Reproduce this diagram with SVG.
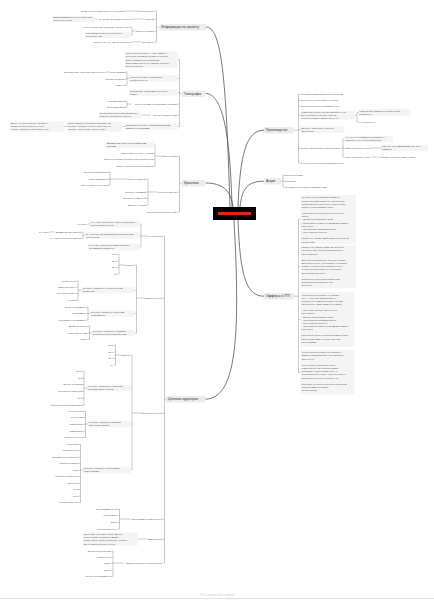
<svg xmlns="http://www.w3.org/2000/svg" width="434" height="600" viewBox="0 0 434 600">
<style>
text{font-family:"Liberation Sans",Arial,sans-serif;font-size:2.1px;fill:#4d4d4d}
.m{font-size:3.3px;fill:#333}
.r{text-anchor:end}
.mb{fill:#ececec}
.lb{fill:#f4f4f4}
.c{fill:none;stroke:#7a7a7a;stroke-width:.4}
.k{fill:none;stroke:#4d4d4d;stroke-width:.75}
.f{font-size:3.6px;fill:#d0d0d0}
</style>
<rect width="434" height="600" fill="#fff"/>
<g id="connectors">
<path class="k" d="M230 207C226 80 222 27 206 27"/>
<path class="k" d="M232 207C230 130 222 93.5 205.5 93.5"/>
<path class="k" d="M233 207C231 190 222 183 205.5 183"/>
<path class="k" d="M234 220C240 330 238 399.2 205 399.2"/>
<path class="k" d="M238 207C240 155 246 130.2 264 130.2"/>
<path class="k" d="M240 207C242 188 248 181.2 264 181.2"/>
<path class="k" d="M238 220C240 275 246 296.2 264 296.2"/>
<path class="c" d="M159.5 27.2H156.5M156.5 11V42M156.5 11H154.5M156.5 19H154.5M156.5 31H154.5M156.5 42H154.5M140 11H125.5M143.5 19H133.5M97.5 19H95M135.5 31H132M132 27V35M132 27H130.5M132 35H130.5M141.3 42H130.8"/>
<path class="c" d="M182 93.7H179.5M179.5 59.7V126.5M179.5 59.7H177.5M179.5 78.5H177.5M179.5 92.5H177.5M179.5 104H177.5M179.5 115H177.5M179.5 126.5H177.5M129 78.5H127M127 72V85M127 72H125.5M127 79H125.5M127 85H125.5M109.5 72H106.5M131.5 104H127M127 101V107M127 101H125.5M127 107H125.5M151 115H141.5M125 126.5H122.5M67 126.5H63.5"/>
<path class="c" d="M182 183.2H179.5M179.5 156V212M179.5 156H177.5M179.5 192H177.5M179.5 212H177.5M162.5 156H155M155 145V166M155 145H153.5M155 153H153.5M155 159.5H153.5M155 166H153.5M157.5 192H148M148 179V205M148 179H146.5M148 192H146.5M148 198.5H146.5M148 205H146.5M129 179H110M110 172V185M110 172H108.5M110 179H108.5M110 185H108.5"/>
<path class="c" d="M166 399.2H164.5M164.5 236V563M164.5 236H162.5M164.5 298H162.5M164.5 413H162.5M164.5 519H162.5M164.5 539H162.5M164.5 563H162.5M147.5 236H141M141 224V247M141 224H139.5M141 235.5H139.5M141 247H139.5M90 224H87.5M85 235.5H83M83 232V238.5M83 232H81.5M83 238.5H81.5M55 232H49M67.5 238.5H60.5"/>
<path class="c" d="M145 298H136.5M136.5 265V333M136.5 265H134.5M136.5 290H134.5M136.5 313.5H134.5M136.5 333H134.5M126 265H119M119 254V274M119 254H117.5M119 261H117.5M119 267.5H117.5M119 274H117.5M82 290H78M78 281V300M78 281H76.5M78 287H76.5M78 293.5H76.5M78 300H76.5M90 313.5H88M88 307V320M88 307H86.5M88 313.5H86.5M88 320H86.5M92 333H89.5M89.5 326V339.5M89.5 326H88M89.5 333H88M89.5 339.5H88"/>
<path class="c" d="M143 413H132M132 355V470M132 355H130.5M132 388H130.5M132 424H130.5M132 470H130.5M122 355H115.5M115.5 345V365M115.5 345H114M115.5 352H114M115.5 358.5H114M115.5 365H114M87 388H84M84 371V405M84 371H82.5M84 378H82.5M84 384.5H82.5M84 391H82.5M84 398H82.5M84 405H82.5M88 424H85.5M85.5 411V437.5M85.5 411H84M85.5 417.5H84M85.5 424H84M85.5 431H84M85.5 437.5H84M83 470H80.5M80.5 444V502.5M80.5 444H79M80.5 450.5H79M80.5 457H79M80.5 463.5H79M80.5 470H79M80.5 476.5H79M80.5 483H79M80.5 489.5H79M80.5 496H79M80.5 502.5H79"/>
<path class="c" d="M130.5 519H119.5M119.5 509V529M119.5 509H118M119.5 515.7H118M119.5 522.3H118M119.5 529H118M147 539H137.5M123.5 563H113M113 551V576.3M113 551H111.5M113 557.3H111.5M113 563.6H111.5M113 570H111.5M113 576.3H111.5"/>
<path class="c" d="M294 130.2H298.5M298.5 94V163M298.5 94H300.5M298.5 100H300.5M298.5 106H300.5M298.5 115H300.5M298.5 129.5H300.5M298.5 148H300.5M298.5 163H300.5M354.5 115.2H357M357 112.5V122M357 112.5H358.5M357 122H358.5M341 148H343M343 139V157M343 139H344.5M343 148H344.5M343 157H344.5M371 148H381M371 157H380.5"/>
<path class="c" d="M281 181.2H283M283 175V187M283 175H284.5M283 181H284.5M283 187H284.5"/>
<path class="c" d="M294 296.2H298.5M298.5 219V372.5M298.5 219H300.5M298.5 266.7H300.5M298.5 319.5H300.5M298.5 372.5H300.5"/>
</g>
<g id="center"><rect x="213" y="207" width="43" height="13" fill="#000"/><rect x="218" y="212" width="33" height="3" fill="#e5260d"/></g>

<g id="info"><rect class="mb" x="159.5" y="24" width="46.5" height="6.5" rx="1"/><text class="m" x="161.2" y="28.4">Информация по проекту</text></g>
<g id="info-location"><text class="r" x="154.2" y="11.75">Расположение</text></g>
<g id="info-location-1"><text class="r" x="125" y="11.75">Дубай с перспективой работать до Abu Dhabi</text></g>
<g id="info-audience"><text class="r" x="154.2" y="19.75">Аудитория</text></g>
<g id="info-audience-1"><text class="r" x="133" y="19.75">По нашему ассортименту подходят</text></g>
<g id="info-audience-2"><rect class="lb" x="52.5" y="15.8" width="42.5" height="6.5"/><text><tspan x="53.3" y="18.45">Дизайнерам можно сделать подрядчика</tspan><tspan x="53.3" y="21.45">личного интерьера</tspan></text></g>
<g id="info-budget"><text class="r" x="154.2" y="31.75">Бюджеты и заказы</text></g>
<g id="info-budget-1"><text class="r" x="130.3" y="27.75">400 в день или 4800 AED бюджет за один проект</text></g>
<g id="info-budget-2"><rect class="lb" x="85" y="31.8" width="45.3" height="6.5"/><text><tspan x="85.8" y="34.45">2-10 заказов бюджетно в пределах от</tspan><tspan x="85.8" y="37.45">других 2000 AED</tspan></text></g>
<g id="info-check"><text class="r" x="154.2" y="42.75">Средний чек</text></g>
<g id="info-check-1"><text class="r" x="130.3" y="42.75">Бюджет 5-10 тыс. AED на подрядчика</text></g>

<g id="typo"><rect class="mb" x="182" y="90.5" width="23.5" height="6.5" rx="1"/><text class="m" x="183.8" y="94.9">Типографы</text></g>
<g id="typo-note"><rect class="lb" x="125" y="51.5" width="52.5" height="16.5"/><text><tspan x="125.8" y="54.2">Нужны видео креативы — обои, варианты</tspan><tspan x="125.8" y="57.35">интерьера, рекламные вставки, по сути как</tspan><tspan x="125.8" y="60.5">макеты дизайна и их согласование.</tspan><tspan x="125.8" y="63.65">Важно изменения на эту тематику (они будут</tspan><tspan x="125.8" y="66.8">больше грустные)</tspan></text></g>
<g id="typo-social"><rect class="lb" x="129" y="75.25" width="48.5" height="6.5"/><text><tspan x="129.8" y="77.9">Крупную рекламу на сообщения в</tspan><tspan x="129.8" y="80.9">социальных сетях</tspan></text></g>
<g id="typo-direct"><text class="r" x="125.3" y="72.75">Direct Instagram</text></g>
<g id="typo-direct-1"><text class="r" x="106" y="72.75">Основная связь, работаем через него всего</text></g>
<g id="typo-fb"><text class="r" x="125.3" y="79.75">Facebook Messenger</text></g>
<g id="typo-wa"><text class="r" x="125.3" y="85.75">WhatsApp</text></g>
<g id="typo-site"><rect class="lb" x="129" y="89.25" width="48.5" height="6.5"/><text><tspan x="129.8" y="91.9">Создаем сайт с работами и на нем есть</tspan><tspan x="129.8" y="94.9">прайсы</tspan></text></g>
<g id="typo-lead"><text class="r" x="177.3" y="104.75">Пустить рекламу на лид формы в Instagram</text></g>
<g id="typo-lead-1"><text class="r" x="125.3" y="101.75">С автоматизацией</text></g>
<g id="typo-lead-2"><text class="r" x="125.3" y="107.75">Без автоматизации</text></g>
<g id="typo-web"><text class="r" x="177.3" y="115.75">Пустить рекламу на сайт</text></g>
<g id="typo-web-1"><rect class="lb" x="99" y="111.75" width="42.5" height="6.5"/><text><tspan x="99.8" y="114.4">В 6 запусках и протестировавший всех</tspan><tspan x="99.8" y="117.4">работают как активные клиенты</tspan></text></g>
<g id="typo-banner"><rect class="lb" x="125" y="123.25" width="52.5" height="6.5"/><text><tspan x="125.8" y="125.9">Персонализ. баннеры с живым оформлением</tspan><tspan x="125.8" y="128.9">фирменных полиграфий</tspan></text></g>
<g id="typo-banner-1"><rect class="lb" x="67" y="121.3" width="55.5" height="10.4"/><text><tspan x="67.8" y="123.9">Можно заказать по 2-5 видео креативов. Так</tspan><tspan x="67.8" y="127.05">они будут попадать в тренды. Будет больше</tspan><tspan x="67.8" y="130.2">доверия, чтобы сделать уровень работ</tspan></text></g>
<g id="typo-banner-2"><rect class="lb" x="10" y="121.3" width="53.5" height="10.4"/><text><tspan x="10.8" y="123.9">Видео, где быстро меняют, как можно</tspan><tspan x="10.8" y="127.05">украсить интерьер или его деталь</tspan><tspan x="10.8" y="130.2">неплохо. Ожидается продолжить стену</tspan></text></g>

<g id="creative"><rect class="mb" x="182" y="180" width="23.5" height="6.5" rx="1"/><text class="m" x="184" y="184.4">Креативы</text></g>
<g id="cr-types"><text class="r" x="177.3" y="156.75">Виды креатива</text></g>
<g id="cr-types-1"><rect class="lb" x="106" y="141.75" width="47.5" height="6.5"/><text><tspan x="106.8" y="144.4">Динамические видео со спецэффектами</tspan><tspan x="106.8" y="147.4">работами</tspan></text></g>
<g id="cr-types-2"><text class="r" x="153.3" y="153.75">Видео работы с нуля — с лицом</text></g>
<g id="cr-types-3"><text class="r" x="153.3" y="160.25">Работа по сценарию основного качества на основе</text></g>
<g id="cr-types-4"><text class="r" x="153.3" y="166.75">Видео в процессе реального времени</text></g>
<g id="cr-static"><text class="r" x="177.3" y="192.75">Статичные баннеры</text></g>
<g id="cr-simple"><text class="r" x="146.3" y="179.75">Простые баннеры</text></g>
<g id="cr-simple-1"><text class="r" x="108.3" y="172.75">Инсталяция оформления</text></g>
<g id="cr-simple-2"><text class="r" x="108.3" y="179.75">Живые оформления</text></g>
<g id="cr-simple-3"><text class="r" x="108.3" y="185.75">Простые фоны в текст и ИИ</text></g>
<g id="cr-dynamic"><text class="r" x="146.3" y="192.75">Баннеры с динамикой</text></g>
<g id="cr-ai"><text class="r" x="146.3" y="199.25">Креативы от нейросетей</text></g>
<g id="cr-collage"><text class="r" x="146.3" y="205.75">Баннеры - коллажи</text></g>
<g id="cr-study"><text class="r" x="177.3" y="212.75">Изучение исследованных работ</text></g>

<g id="ta"><rect class="mb" x="166" y="396" width="39.5" height="6.5" rx="1"/><text class="m" x="168" y="400.4">Целевая аудитория</text></g>
<g id="ta-contr"><text class="r" x="162.3" y="236.75">ЦА подрядчики</text></g>
<g id="ta-contr-1"><rect class="lb" x="90" y="220.75" width="49.5" height="6.5"/><text><tspan x="90.8" y="223.4">ЦА с тем, что исследует нужные вещи работы</tspan><tspan x="90.8" y="226.4">и вдохновение на поток</tspan></text></g>
<g id="ta-contr-1a"><text class="r" x="87" y="224.75">ЦА 5-10%</text></g>
<g id="ta-contr-2"><rect class="lb" x="85" y="232.25" width="54.5" height="6.5"/><text><tspan x="85.8" y="234.9">ЦА с постоянным профессиональным интересом</tspan><tspan x="85.8" y="237.9">к интерьерам</tspan></text></g>
<g id="ta-contr-2a"><text class="r" x="81.3" y="232.75">Взаимодействие клиентов</text></g>
<g id="ta-contr-2a1"><text class="r" x="48.5" y="232.75">ЦА 1-65%</text></g>
<g id="ta-contr-2b"><text class="r" x="81.3" y="239.25">Пользователь</text></g>
<g id="ta-contr-2b1"><text class="r" x="60" y="239.25">ЦА 1-50%</text></g>
<g id="ta-contr-3"><rect class="lb" x="88" y="243.75" width="51.5" height="6.5"/><text><tspan x="88.8" y="246.4">ЦА с тем, что исследует заказы на работу</tspan><tspan x="88.8" y="249.4">над фирмой и поиски и пр.</tspan></text></g>

<g id="ta-direct"><text class="r" x="162.3" y="298.75">Прямые интересы</text></g>
<g id="ta-d-age"><text class="r" x="134.3" y="265.75">Возраст</text></g>
<g id="ta-d-age-1"><text class="r" x="117.3" y="254.75">18-24</text></g>
<g id="ta-d-age-2"><text class="r" x="117.3" y="261.75">25-34</text></g>
<g id="ta-d-age-3"><text class="r" x="117.3" y="268.25">35-44</text></g>
<g id="ta-d-age-4"><text class="r" x="117.3" y="274.75">45+</text></g>
<g id="ta-d-build"><rect class="lb" x="82" y="286.75" width="52.5" height="6.5"/><text><tspan x="82.8" y="289.4">Интересы, связанные со строительством</tspan><tspan x="82.8" y="292.4">и ремонтом</tspan></text></g>
<g id="ta-d-build-1"><text class="r" x="76.3" y="281.75">Строительство</text></g>
<g id="ta-d-build-2"><text class="r" x="76.3" y="287.75">Ремонтные работы</text></g>
<g id="ta-d-build-3"><text class="r" x="76.3" y="294.25">Отделочные работы</text></g>
<g id="ta-d-build-4"><text class="r" x="76.3" y="300.75">Стройка</text></g>
<g id="ta-d-estate"><rect class="lb" x="90" y="310.25" width="44.5" height="6.5"/><text><tspan x="90.8" y="312.9">Интересы, связанные с объектами</tspan><tspan x="90.8" y="315.9">недвижимости</tspan></text></g>
<g id="ta-d-estate-1"><text class="r" x="86.3" y="307.75">Объект недвижимости</text></g>
<g id="ta-d-estate-2"><text class="r" x="86.3" y="314.25">Недвижимость</text></g>
<g id="ta-d-estate-3"><text class="r" x="86.3" y="320.75">Инвестиции в недвижимость</text></g>
<g id="ta-d-design"><rect class="lb" x="92" y="329.75" width="42.5" height="6.5"/><text><tspan x="92.8" y="332.4">Интересы, связанные с дизайном</tspan><tspan x="92.8" y="335.4">интерьеров и обустройством дома</tspan></text></g>
<g id="ta-d-design-1"><text class="r" x="87.6" y="326.75">Дизайн интерьеров</text></g>
<g id="ta-d-design-2"><text class="r" x="87.6" y="333.75">Обустройство дома</text></g>
<g id="ta-d-design-3"><text class="r" x="87.6" y="340.25">Мебель</text></g>

<g id="ta-main"><text class="r" x="162.3" y="413.75">Основные интересы</text></g>
<g id="ta-m-age"><text class="r" x="130.3" y="355.75">Возраст</text></g>
<g id="ta-m-age-1"><text class="r" x="113.6" y="345.75">18-24</text></g>
<g id="ta-m-age-2"><text class="r" x="113.6" y="352.75">25-34</text></g>
<g id="ta-m-age-3"><text class="r" x="113.6" y="359.25">35-44</text></g>
<g id="ta-m-age-4"><text class="r" x="113.6" y="365.75">45+</text></g>
<g id="ta-m-health"><rect class="lb" x="87" y="384.75" width="43.5" height="6.5"/><text><tspan x="87.8" y="387.4">Интересы, связанные со здоровьем</tspan><tspan x="87.8" y="390.4">и образом жизни, спортом</tspan></text></g>
<g id="ta-m-health-1"><text class="r" x="82.3" y="371.75">Отдых</text></g>
<g id="ta-m-health-2"><text class="r" x="82.3" y="378.75">Еда</text></g>
<g id="ta-m-health-3"><text class="r" x="82.3" y="385.25">Личные тренировки</text></g>
<g id="ta-m-health-4"><text class="r" x="82.3" y="391.75">Спортивные упражнения</text></g>
<g id="ta-m-health-5"><text class="r" x="82.3" y="398.75">Йога</text></g>
<g id="ta-m-health-6"><text class="r" x="82.3" y="405.75">Фитнес и здоровый образ жизни</text></g>
<g id="ta-m-active"><rect class="lb" x="88" y="420.75" width="42.5" height="6.5"/><text><tspan x="88.8" y="423.4">Интересы, связанные с активной</tspan><tspan x="88.8" y="426.4">жизненной позицией</tspan></text></g>
<g id="ta-m-active-1"><text class="r" x="83.6" y="411.75">Качество жизни</text></g>
<g id="ta-m-active-2"><text class="r" x="83.6" y="418.25">Путешествия</text></g>
<g id="ta-m-active-3"><text class="r" x="83.6" y="424.75">Самопознание</text></g>
<g id="ta-m-active-4"><text class="r" x="83.6" y="431.75">Саморазвитие</text></g>
<g id="ta-m-active-5"><text class="r" x="83.6" y="438.25">Уверенность в себе</text></g>
<g id="ta-m-art"><rect class="lb" x="83" y="466.75" width="47.5" height="6.5"/><text><tspan x="83.8" y="469.4">Интересы, связанные с искусством и</tspan><tspan x="83.8" y="472.4">развлечениями</tspan></text></g>
<g id="ta-m-art-1"><text class="r" x="78.6" y="444.75">Art-коллекции</text></g>
<g id="ta-m-art-2"><text class="r" x="78.6" y="451.25">Городской театр</text></g>
<g id="ta-m-art-3"><text class="r" x="78.6" y="457.75">Изобразительное искусство</text></g>
<g id="ta-m-art-4"><text class="r" x="78.6" y="464.25">Искусство и музыка</text></g>
<g id="ta-m-art-5"><text class="r" x="78.6" y="470.75">Музей</text></g>
<g id="ta-m-art-6"><text class="r" x="78.6" y="477.25">Современное искусство</text></g>
<g id="ta-m-art-7"><text class="r" x="78.6" y="483.75">Творчество</text></g>
<g id="ta-m-art-8"><text class="r" x="78.6" y="490.25">Мода</text></g>
<g id="ta-m-art-9"><text class="r" x="78.6" y="496.75">Театр</text></g>
<g id="ta-m-art-10"><text class="r" x="78.6" y="503.25">Музыкальный театр</text></g>

<g id="ta-biz"><text class="r" x="162.3" y="519.75">Предпринимательские контакты</text></g>
<g id="ta-biz-1"><text class="r" x="117.6" y="509.75">Предпринимательство</text></g>
<g id="ta-biz-2"><text class="r" x="117.6" y="516.45">Малый бизнес</text></g>
<g id="ta-biz-3"><text class="r" x="117.6" y="523.05">Бизнес</text></g>
<g id="ta-biz-4"><text class="r" x="117.6" y="529.75">Крупный бизнес и тд</text></g>
<g id="ta-b2b"><text class="r" x="162.3" y="539.75">B2B аудитория</text></g>
<g id="ta-b2b-1"><rect class="lb" x="83" y="532.5" width="54.5" height="13.3"/><text><tspan x="83.8" y="535.1">Бары, кафе, рестораны, клубы, фитнес-</tspan><tspan x="83.8" y="538.25">клубы, бутики, гостиничные фирмы,</tspan><tspan x="83.8" y="541.4">офисы, школы, банки, автосалоны, торговые</tspan><tspan x="83.8" y="544.55">места, развлекательные центры</tspan></text></g>
<g id="ta-wide"><text class="r" x="162.3" y="563.75">Широкая аудитория (через интересы)</text></g>
<g id="ta-wide-1"><text class="r" x="111.1" y="551.75">Вовлеченная аудитория</text></g>
<g id="ta-wide-2"><text class="r" x="111.1" y="558.05">Строительство</text></g>
<g id="ta-wide-3"><text class="r" x="111.1" y="564.35">Ремонт</text></g>
<g id="ta-wide-4"><text class="r" x="111.1" y="570.75">Бизнес</text></g>
<g id="ta-wide-5"><text class="r" x="111.1" y="577.05">Частные предприниматели</text></g>

<g id="prod"><rect class="mb" x="264" y="127" width="30" height="6.5" rx="1"/><text class="m" x="265.8" y="131.4">Производство</text></g>
<g id="prod-1"><text x="301" y="94.75">Площадка профессиональных сооружений</text></g>
<g id="prod-2"><text x="301" y="100.75">Более 10 лет опыта работы в отрасли</text></g>
<g id="prod-3"><text x="301" y="106.75">Более 200 проектов реализовано в ОАЭ</text></g>
<g id="prod-4"><rect class="lb" x="300.5" y="110.8" width="54" height="8.8"/><text><tspan x="301.3" y="113.1">Уникальная художественная компания (не так</tspan><tspan x="301.3" y="115.85">много подобных), быстрая, также из</tspan><tspan x="301.3" y="118.6">конкурентов мало (в Дубае просто нет)</tspan></text></g>
<g id="prod-4a"><rect class="lb" x="358.5" y="109.25" width="52.5" height="6.5"/><text><tspan x="359.3" y="111.9">Компания №1 в Дубае по художественной</tspan><tspan x="359.3" y="114.9">росписи стен</tspan></text></g>
<g id="prod-4b"><text x="359" y="122.75">Нет конкурентов</text></g>
<g id="prod-5"><rect class="lb" x="300.5" y="126.25" width="44" height="6.5"/><text><tspan x="301.3" y="128.9">Дешевле, чем услуги от лавочных</tspan><tspan x="301.3" y="131.9">подрядчиков</tspan></text></g>
<g id="prod-6"><text x="301" y="148.75">Высокое разнообразие стилей росписи</text></g>
<g id="prod-6a"><rect class="lb" x="344.5" y="135.75" width="48.5" height="6.5"/><text><tspan x="345.3" y="138.4">Нет того, что невозможно реализовать в</tspan><tspan x="345.3" y="141.4">реальность, нет лучшего фактически</tspan></text></g>
<g id="prod-6b"><text x="345" y="148.75">Самые популярные стили</text></g>
<g id="prod-6b1"><rect class="lb" x="381" y="144.75" width="47" height="6.5"/><text><tspan x="381.8" y="147.4">Лофт, арт-деко, минимализм, эко-стиль,</tspan><tspan x="381.8" y="150.4">граффити</tspan></text></g>
<g id="prod-6c"><text x="345" y="157.75">Менее популярные стили</text></g>
<g id="prod-6c1"><text x="381" y="157.75">Барокко, ренессанс, ампир, прованс</text></g>
<g id="prod-7"><text x="301" y="163.75">От 3-х и до 5-7 дней на реализацию проекта</text></g>

<g id="promo"><rect class="mb" x="264" y="178" width="17" height="6.5" rx="1"/><text class="m" x="266" y="182.4">Акции</text></g>
<g id="promo-1"><text x="285" y="175.75">Бесплатный замер</text></g>
<g id="promo-2"><text x="285" y="181.75">Без аванса</text></g>
<g id="promo-3"><text x="285" y="187.75">Подарим готовые эскизы к своим брендам</text></g>

<g id="offers"><rect class="mb" x="264" y="293" width="30" height="6.5" rx="1"/><text class="m" x="265.8" y="297.4">Офферы и УТП</text></g>
<g id="offer-1"><rect class="lb" x="300.5" y="195" width="55.5" height="49"/><text><tspan x="301.5" y="198.4">Мы единственная компания в Дубае по</tspan><tspan x="301.5" y="201.55">художественной росписи стен. Потолков, мы</tspan><tspan x="301.5" y="204.7">профессионально ввели все лучшие условия</tspan><tspan x="301.5" y="207.85">работы с подрядчиками в городе.</tspan><tspan x="301.5" y="214.15">– Более 200 проектов и более 10 лет опыта</tspan><tspan x="301.5" y="217.3">работы</tspan><tspan x="301.5" y="220.45">– Высокое разнообразие стилей</tspan><tspan x="301.5" y="223.6">– Эксклюзивные работы по вашим фантазиям и</tspan><tspan x="301.5" y="226.75">реальности</tspan><tspan x="301.5" y="229.9">– Оперативная реализация проекта</tspan><tspan x="301.5" y="233.05">– 100% гарантия качества</tspan><tspan x="301.5" y="239.35">Свяжитесь с нашим дизайнером для бесплатной</tspan><tspan x="301.5" y="242.5">консультации</tspan></text></g>
<g id="offer-2"><rect class="lb" x="300.5" y="245.3" width="55.5" height="43"/><text><tspan x="301.5" y="248.3">Роспись стен в Дубае оживит ваш интерьер,</tspan><tspan x="301.5" y="251.45">подчеркнет ваш стиль и индивидуальность</tspan><tspan x="301.5" y="254.6">вашего бизнеса.</tspan><tspan x="301.5" y="260.9">Более 200 реализованных проектов по всему</tspan><tspan x="301.5" y="264.05">миру и более 10 лет опыта работы. Мы можем</tspan><tspan x="301.5" y="267.2">добавить стиля и уюта в любой интерьер —</tspan><tspan x="301.5" y="270.35">художественная роспись стен подчеркнет</tspan><tspan x="301.5" y="273.5">вашу индивидуальность.</tspan><tspan x="301.5" y="279.8">Переходи по ссылке и мы разработаем</tspan><tspan x="301.5" y="282.95">индивидуальный эскиз для тебя</tspan><tspan x="301.5" y="286.1">бесплатно!</tspan></text></g>
<g id="offer-3"><rect class="lb" x="300.5" y="292" width="54" height="55"/><text><tspan x="301.5" y="295.5">Художественная роспись стен в Дубае.</tspan><tspan x="301.5" y="298.65">Мы — Art De Wall, компания №1 по</tspan><tspan x="301.5" y="301.8">росписи стен в Эмиратах! Так мы сделаем</tspan><tspan x="301.5" y="304.95">ваш интерьер таким, каким вы его видите.</tspan><tspan x="301.5" y="311.25">– Более 200 проектов и более 10 лет</tspan><tspan x="301.5" y="314.4">опыта работы</tspan><tspan x="301.5" y="317.55">– Высокое разнообразие стилей</tspan><tspan x="301.5" y="320.7">– Оперативная реализация проекта</tspan><tspan x="301.5" y="323.85">– 100% гарантия качества</tspan><tspan x="301.5" y="327">– Эксклюзивные работы по вашим фантазиям и</tspan><tspan x="301.5" y="330.15">реальности</tspan><tspan x="301.5" y="336.45">Переходи по ссылке, бесплатный замер и наши</tspan><tspan x="301.5" y="339.6">консультации помогут сделать ваш дом</tspan><tspan x="301.5" y="342.75">неповторимым</tspan></text></g>
<g id="offer-4"><rect class="lb" x="300.5" y="350" width="54" height="44.5"/><text><tspan x="301.5" y="353.3">Художественная роспись стен в Дубае от</tspan><tspan x="301.5" y="356.45">команды профессионалов с опытом работы</tspan><tspan x="301.5" y="359.6">более 10 лет!</tspan><tspan x="301.5" y="365.9">Хотите придать вашему интерьеру</tspan><tspan x="301.5" y="369.05">уникальности? Наш художник поможет</tspan><tspan x="301.5" y="372.2">реализовать любую задумку, будь то</tspan><tspan x="301.5" y="375.35">большой зал или детская, чтобы подчеркнуть</tspan><tspan x="301.5" y="378.5">вашу исключительность и создать уют.</tspan><tspan x="301.5" y="384.8">Переходите по ссылке и получите бесплатный</tspan><tspan x="301.5" y="387.95">эскиз или замер со скидкой</tspan><tspan x="301.5" y="391.1">предоставления</tspan></text></g>

<g id="footer"><text class="f" x="200" y="596">Presented with xmind</text><line x1="0" y1="598.6" x2="434" y2="598.6" stroke="#d6d6d6" stroke-width=".8"/></g>
</svg>
